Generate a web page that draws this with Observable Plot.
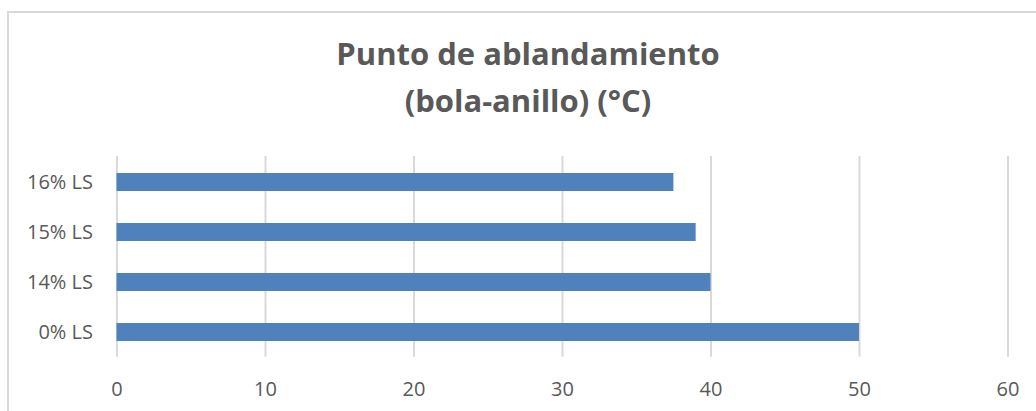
<!DOCTYPE html>
<html>
<head>
<meta charset="utf-8">
<script src="https://cdn.jsdelivr.net/npm/d3@7"></script>
<script src="https://cdn.jsdelivr.net/npm/@observablehq/plot@0.6"></script>
<style>
  html, body { margin: 0; padding: 0; background: #fff; overflow: hidden; }
  #wrap { position: relative; width: 1036px; height: 411px; overflow: hidden; }
  #frame {
    position: absolute; left: 7px; top: 11px; width: 2000px; height: 2000px;
    border-top: 2px solid #d9d9d9; border-left: 2px solid #d9d9d9;
    pointer-events: none;
  }
  #title {
    height: 140px; box-sizing: border-box; padding-top: 29.5px;
    width: 1056px; text-align: center;
    font-family: "Open Sans", sans-serif; font-weight: 700; font-size: 31px;
    line-height: 47px; color: #595959;
  }
  #chart svg { display: block; }
</style>
</head>
<body>
<div id="wrap">
  <div id="frame"></div>
  <div id="title">Punto de ablandamiento<br>(bola-anillo) (°C)</div>
  <div id="chart"></div>
</div>
<script>
// Categories listed top to bottom, with their softening-point values (°C)
const categories = ["16% LS", "15% LS", "14% LS", "0% LS"];
const values = [37.5, 39, 40, 50];
const xTicks = [0, 10, 20, 30, 40, 50, 60];

const data = categories.map((c, i) => ({category: c, value: values[i]}));

const chart = Plot.plot({
  width: 1036,
  height: 271,
  marginLeft: 116.5,
  marginRight: 28.5,
  marginTop: 16,
  marginBottom: 54.3,
  style: {fontFamily: "Open Sans, sans-serif", fontSize: "20px", color: "#595959", background: "transparent"},
  x: {domain: [0, 60], ticks: xTicks, label: null},
  y: {domain: categories, paddingInner: 0.65, paddingOuter: 0.325, label: null},
  marks: [
    Plot.gridX(xTicks, {stroke: "#d9d9d9", strokeOpacity: 1, strokeWidth: 2}),
    Plot.barX(data, {x: "value", y: "category", fill: "#4f81bd"}),
    Plot.axisX(xTicks, {tickSize: 0, tickPadding: 25, label: null, fill: "#595959"}),
    Plot.axisY({tickSize: 0, tickPadding: 24, label: null, fill: "#595959"})
  ]
});

document.getElementById("chart").appendChild(chart);
</script>
</body>
</html>
